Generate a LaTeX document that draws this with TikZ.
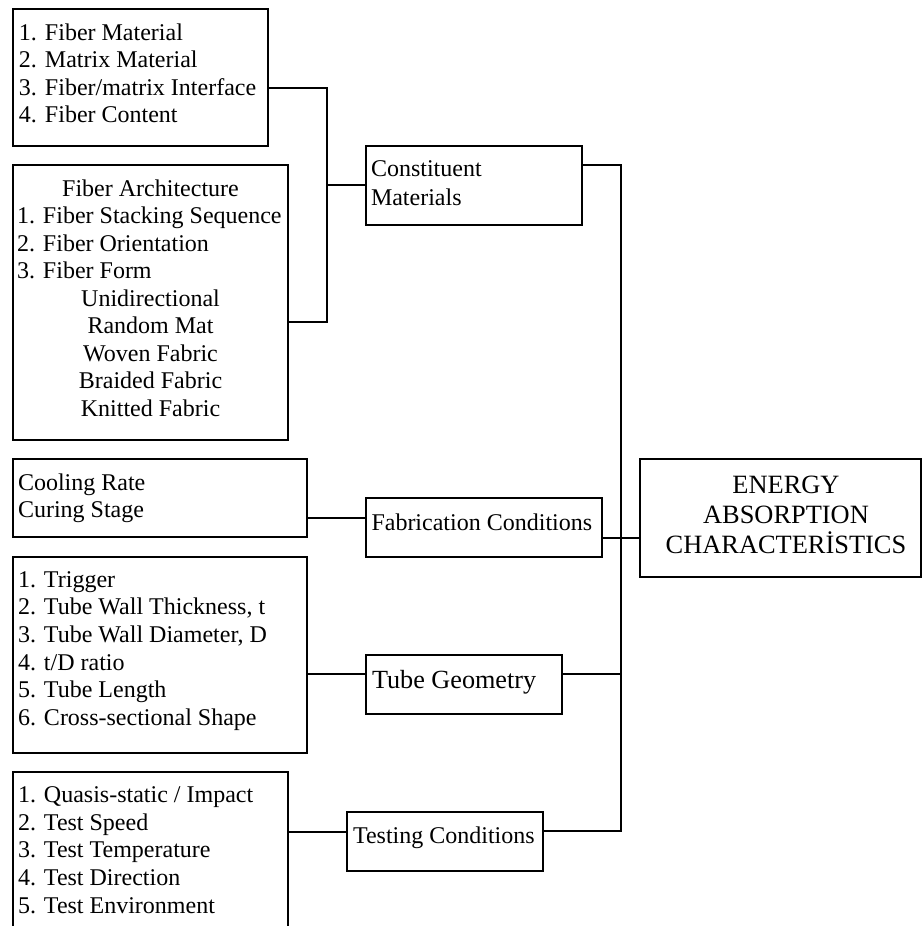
\documentclass[tikz,border=0pt]{standalone}
\usepackage{fontspec}
\setmainfont{Liberation Serif}
\begin{document}
\begin{tikzpicture}[x=1pt,y=-1pt,
  box/.style={draw, line width=2.2pt, inner sep=0pt, outer sep=0pt, anchor=north west},
  frame/.style={inner sep=0pt, outer sep=0pt, anchor=north west},
  txt/.style={inner sep=0pt, outer sep=0pt, anchor=north west, align=left, font=\fontsize{24}{27.6}\selectfont},
  lbl/.style={inner sep=0pt, outer sep=0pt, anchor=base west, font=\fontsize{24}{27.6}\selectfont},
  conn/.style={line width=2.2pt}]
\useasboundingbox (0,0) rectangle (923,926);
% left boxes
\node[box, minimum width=255pt, minimum height=137pt] (A) at (13,9) {};
\node[txt] (Atx) at (19,20.7) {\strut 1. Fiber Material\\2. Matrix Material\\3. Fiber/matrix Interface\\4. Fiber Content};
\node[box, minimum width=275pt, minimum height=275pt] (B) at (13,165) {};
\node[txt, font=\fontsize{24}{27.5}\selectfont] (Btx) at (17,176.8) {\strut\makebox[267pt][c]{Fiber Architecture}\\1. Fiber Stacking Sequence\\2. Fiber Orientation\\3. Fiber Form\\\makebox[267pt][c]{Unidirectional}\\\makebox[267pt][c]{Random Mat}\\\makebox[267pt][c]{Woven Fabric}\\\makebox[267pt][c]{Braided Fabric}\\\makebox[267pt][c]{Knitted Fabric}};
\node[box, minimum width=294pt, minimum height=78pt] (Cool) at (13,459) {};
\node[txt, font=\fontsize{24}{26.8}\selectfont] (Cooltx) at (18,471.9) {\strut Cooling Rate\\Curing Stage};
\node[box, minimum width=294pt, minimum height=196pt] (TubeL) at (13,557) {};
\node[txt] (TubeLtx) at (18,568) {\strut 1. Trigger\\2. Tube Wall Thickness, t\\3. Tube Wall Diameter, D\\4. t/D ratio\\5. Tube Length\\6. Cross-sectional Shape};
\node[frame, minimum width=275pt, minimum height=154pt] (TestL) at (13,772) {};
\draw[line width=2.2pt] (TestL.south west) -- (TestL.north west) -- (TestL.north east) -- (TestL.south east);
\node[txt] (TestLtx) at (18,783.4) {\strut 1. Quasis-static / Impact\\2. Test Speed\\3. Test Temperature\\4. Test Direction\\5. Test Environment};
% middle boxes
\node[box, minimum width=216pt, minimum height=79pt] (C) at (366,146) {};
\node[txt, font=\fontsize{24}{28.3}\selectfont] (Ctx) at (371,156.9) {\strut Constituent\\Materials};
\node[box, minimum width=236pt, minimum height=59pt] (Fab) at (366,498) {};
\node[lbl] (Fabtx) at (371.5,530) {Fabrication Conditions};
\node[box, minimum width=196pt, minimum height=59pt] (TG) at (366,655) {};
\node[lbl, font=\fontsize{26.2}{30}\selectfont] (TGtx) at (372,688) {Tube Geometry};
\node[box, minimum width=196pt, minimum height=59pt] (Tst) at (347,812) {};
\node[lbl] (Tsttx) at (353,843) {Testing Conditions};
% result box
\node[box, minimum width=281pt, minimum height=118pt] (E) at (640,459) {};
\node[inner sep=0pt, outer sep=0pt, anchor=north, align=center, font=\fontsize{26.4}{30}\selectfont] (Etx) at (786,472) {\strut ENERGY\\ABSORPTION\\CHARACTERİSTICS};
% junction points
\coordinate (jA) at (327,88);
\coordinate (jB) at (327,322);
\coordinate (jC) at (327,185);
\coordinate (vT) at (621,165);
\coordinate (vB) at (621,831);
\coordinate (vTG) at (621,674);
\coordinate (yCool) at (0,518);
\coordinate (yFab) at (0,538);
\coordinate (yTL) at (0,832);
% connectors
\draw[conn] (A.east |- jA) -- (jA) -- (jB) -- (B.east |- jB);
\draw[conn] (jC) -- (C.west |- jC);
\draw[conn] (C.east |- vT) -- (vT) -- (vB) -- (Tst.east |- vB);
\draw[conn] (Cool.east |- yCool) -- (Fab.west |- yCool);
\draw[conn] (Fab.east |- yFab) -- (E.west |- yFab);
\draw[conn] (TubeL.east |- vTG) -- (TG.west |- vTG);
\draw[conn] (TG.east |- vTG) -- (vTG);
\draw[conn] (TestL.east |- yTL) -- (Tst.west |- yTL);
\end{tikzpicture}
\end{document}
